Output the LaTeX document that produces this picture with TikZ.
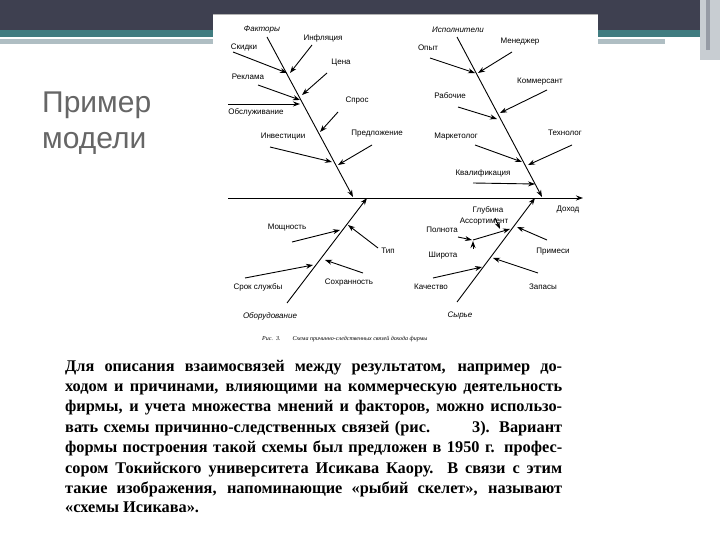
\documentclass[tikz,border=0pt]{standalone}
\usepackage{fontspec}
\setmainfont{Liberation Serif}
\newfontfamily\lab{Liberation Sans}
\usetikzlibrary{arrows.meta}
\definecolor{hdark}{RGB}{62,64,80}
\definecolor{hteal}{RGB}{64,124,128}
\definecolor{hlight}{RGB}{175,190,195}
\definecolor{hside}{RGB}{200,205,210}
\definecolor{hside2}{RGB}{150,155,165}
\newcommand{\jl}[1]{\makebox[497pt][s]{#1}}
\begin{document}
\begin{tikzpicture}[x=1pt,y=-1pt,
 bone/.style={line width=0.9pt,-{Stealth[length=7pt,width=5pt]}},
 br/.style={line width=0.9pt,-{Stealth[length=7pt,width=5pt]}},
 lb/.style={font=\lab\fontsize{8}{9}\selectfont,inner sep=0pt},
 il/.style={font=\lab\itshape\fontsize{8}{9}\selectfont,inner sep=0pt},
 tx/.style={font=\bfseries\fontsize{16.3}{18}\selectfont,inner sep=0pt,anchor=base west}]
\useasboundingbox (0,0) rectangle (720,540);
\fill[white] (0,0) rectangle (720,540);
% header
\fill[hdark] (0,0) rectangle (720,30);
\fill[hteal] (0,30) rectangle (720,37);
\fill[hlight] (0,39) rectangle (665,44);
\fill[hside] (700,0) rectangle (720,60);
\fill[hside2] (706,0) rectangle (710,50);
% image area
\fill[white] (213,14) rectangle (598,346);
\draw[gray!60,line width=0.5pt] (213,14) -- (598,14);
% title
\node[font=\lab\fontsize{30}{36}\selectfont,text=gray!80!black,align=left,anchor=north west,inner sep=0pt] (title) at (42,92) {Пример\\модели};
% fishbone
\coordinate (s0) at (228,198); \coordinate (s1) at (583,198);
\draw[bone] (s0) -- (s1);
\node[lb] (dohod) at (568,210) {Доход};
\coordinate (a0) at (267,37); \coordinate (a1) at (353,197);
\coordinate (b0) at (457,37); \coordinate (b1) at (542,197);
\coordinate (c0) at (287,303); \coordinate (c1) at (367,198);
\coordinate (d0) at (457,302); \coordinate (d1) at (535,198);
\draw[bone] (a0)--(a1); \draw[bone] (b0)--(b1);
\draw[bone] (c0)--(c1); \draw[bone] (d0)--(d1);
\node[il] (fak) at (262,30) {Факторы};
\node[il] (isp) at (458,30) {Исполнители};
\node[il] (obor) at (270,316) {Оборудование};
\node[il] (syr) at (460,316) {Сырье};
% top-left
\node[lb] (infl) at (323,38) {Инфляция};
\node[lb] (skid) at (244,48) {Скидки};
\node[lb] (cena) at (341,63) {Цена};
\node[lb] (rekl) at (248,77) {Реклама};
\node[lb] (spros) at (357,101) {Спрос};
\node[lb] (obsl) at (256,112) {Обслуживание};
\node[lb] (inv) at (283,137) {Инвестиции};
\node[lb] (pred) at (377,134) {Предложение};
\coordinate (p1) at (233,52); \coordinate (q1) at (287,73);
\coordinate (p2) at (312,45); \coordinate (q2) at (290,73);
\coordinate (p3) at (327,73); \coordinate (q3) at (302,95);
\coordinate (p4) at (258,85); \coordinate (q4) at (300,100);
\coordinate (p5) at (228,104); \coordinate (q5) at (300,104);
\coordinate (p6) at (338,112); \coordinate (q6) at (320,132);
\coordinate (p7) at (270,147); \coordinate (q7) at (332,162);
\coordinate (p8) at (372,145); \coordinate (q8) at (338,165);
\foreach \i in {1,...,8} \draw[br] (p\i)--(q\i);
% top-right
\node[lb] (men) at (520,42) {Менеджер};
\node[lb] (opyt) at (428,48) {Опыт};
\node[lb] (komm) at (540,82) {Коммерсант};
\node[lb] (rab) at (450,96) {Рабочие};
\node[lb] (mark) at (456,137) {Маркетолог};
\node[lb] (tech) at (565,133) {Технолог};
\node[lb] (kval) at (483,173) {Квалификация};
\coordinate (r1) at (430,58); \coordinate (t1) at (475,73);
\coordinate (r2) at (512,52); \coordinate (t2) at (478,73);
\coordinate (r3) at (547,90); \coordinate (t3) at (500,113);
\coordinate (r4) at (458,107); \coordinate (t4) at (497,119);
\coordinate (r5) at (475,145); \coordinate (t5) at (522,162);
\coordinate (r6) at (572,145); \coordinate (t6) at (528,165);
\coordinate (r7) at (473,183); \coordinate (t7) at (535,184);
\foreach \i in {1,...,7} \draw[br] (r\i)--(t\i);
% bottom-left
\node[lb] (moshch) at (287,228) {Мощность};
\node[lb] (tip) at (388,251) {Тип};
\node[lb] (srok) at (258,287) {Срок службы};
\node[lb] (sokh) at (349,283) {Сохранность};
\coordinate (u1) at (292,242); \coordinate (v1) at (340,230);
\coordinate (u2) at (378,248); \coordinate (v2) at (348,225);
\coordinate (u3) at (245,278); \coordinate (v3) at (313,265);
\coordinate (u4) at (363,273); \coordinate (v4) at (325,260);
\foreach \i in {1,...,4} \draw[br] (u\i)--(v\i);
% bottom-right
\node[lb] (glub) at (488,210) {Глубина};
\node[lb] (assort) at (484,222) {Ассортимент};
\node[lb] (poln) at (442,230) {Полнота};
\node[lb] (shir) at (443,256) {Широта};
\node[lb] (prim) at (553,252) {Примеси};
\node[lb] (kach) at (431,287) {Качество};
\node[lb] (zap) at (543,287) {Запасы};
\coordinate (w1) at (495,218); \coordinate (z1) at (500,229);
\coordinate (w2) at (473,240); \coordinate (z2) at (510,229);
\coordinate (w3) at (458,237); \coordinate (z3) at (472,240);
\coordinate (w4) at (473,249); \coordinate (z4) at (473,241);
\coordinate (w5) at (547,240); \coordinate (z5) at (517,227);
\coordinate (w6) at (433,278); \coordinate (z6) at (482,267);
\coordinate (w7) at (538,273); \coordinate (z7) at (493,258);
\foreach \i in {1,...,7} \draw[br] (w\i)--(z\i);
\node[font=\itshape\fontsize{6}{7}\selectfont,inner sep=0pt,anchor=west] (cap) at (262,339) {Рис.\ \ 3.\qquad Схема причинно-следственных связей дохода фирмы};
% text
\node[tx] (l1) at (65,371) {\jl{Для описания взаимосвязей между результатом, например до-}};
\node[tx] (l2) at (65,391) {\jl{ходом и причинами, влияющими на коммерческую деятельность}};
\node[tx] (l3) at (65,411) {\jl{фирмы, и учета множества мнений и факторов, можно использо-}};
\node[tx] (l4) at (65,432) {\jl{вать схемы причинно-следственных связей (рис. \qquad 3). Вариант}};
\node[tx] (l5) at (65,452) {\jl{формы построения такой схемы был предложен в 1950 г. профес-}};
\node[tx] (l6) at (65,473) {\jl{сором Токийского университета Исикава Каору. В связи с этим}};
\node[tx] (l7) at (65,493) {\jl{такие изображения, напоминающие «рыбий скелет», называют}};
\node[tx] (l8) at (65,512) {«схемы Исикава».};
\end{tikzpicture}
\end{document}
